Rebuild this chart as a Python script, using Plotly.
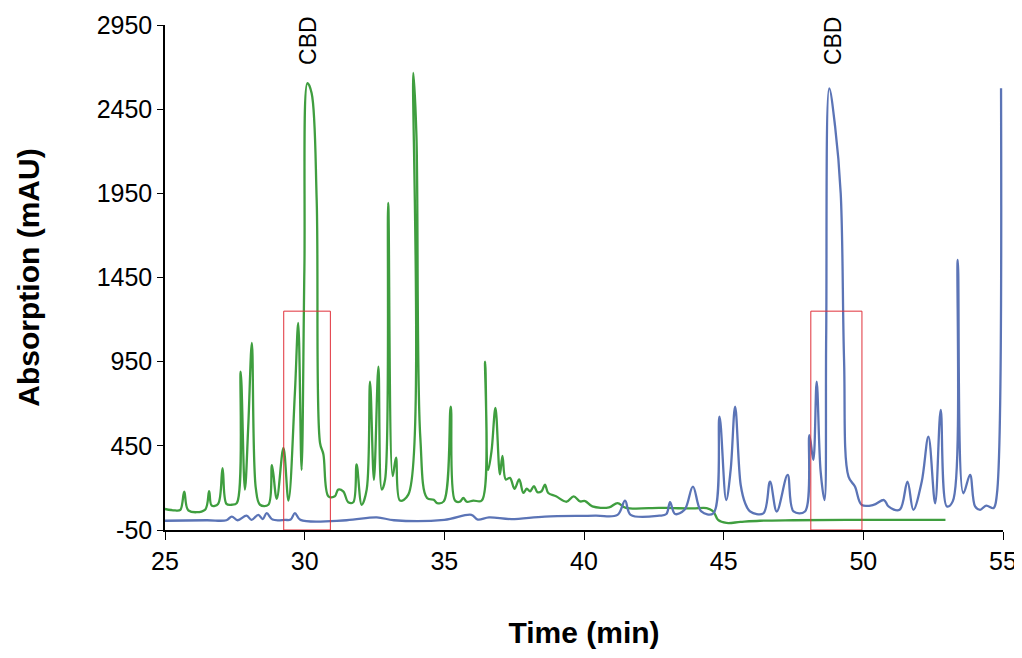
import plotly.graph_objects as go

# green chromatogram (time in min, absorption in mAU)
green_t = [25.0, 25.36, 25.55, 25.69, 25.84, 26.43, 26.58, 26.67, 26.9, 27.06, 27.2, 27.39, 27.57,
           27.71, 27.86, 27.98, 28.11, 28.25, 28.4, 28.7, 28.83, 29.0, 29.24, 29.42, 29.65, 29.77,
           29.89, 29.99, 30.1, 30.25, 30.43, 30.55, 30.67, 30.85, 31.08, 31.2, 31.38, 31.56, 31.74,
           31.86, 32.04, 32.22, 32.34, 32.48, 32.64, 32.76, 32.88, 32.99, 33.15, 33.27, 33.41, 33.71,
           33.89, 34.0, 34.14, 34.38, 34.62, 34.74, 34.98, 35.23, 35.38, 35.56, 35.68, 35.8, 36.04,
           36.34, 36.46, 36.57, 36.69, 36.83, 36.99, 37.08, 37.2, 37.35, 37.51, 37.68, 37.83, 37.95,
           38.07, 38.21, 38.33, 38.48, 38.6, 38.72, 39.0, 39.38, 39.63, 39.86, 40.04, 40.3, 40.9,
           41.2, 41.5, 42.7, 43.2, 43.9, 44.39, 44.63, 44.8, 45.1, 45.6, 46.3, 47.5, 50.0, 52.94]
green_y = [75, 66, 70, 178, 66, 70, 181, 95, 105, 318, 105, 100, 110,
           891, 190, 564, 1061, 200, 100, 100, 335, 135, 437, 125, 764, 1180,
           307, 1500, 2605, 2545, 1910, 467, 400, 150, 150, 190, 180, 115, 115,
           340, 100, 190, 831, 248, 920, 190, 250, 1893, 270, 380, 125, 160,
           2665, 2300, 500, 140, 130, 110, 120, 683, 125, 118, 140, 118, 125,
           125, 950, 307, 420, 675, 280, 390, 250, 260, 195, 250, 170, 195,
           180, 210, 175, 180, 220, 170, 150, 118, 150, 120, 122, 90, 85,
           110, 82, 82, 80, 78, 80, 60, 10, -8, -2, 5, 8, 10, 10]

# blue chromatogram
blue_t = [25.0, 26.5, 27.2, 27.39, 27.6, 27.92, 28.1, 28.34, 28.5, 28.64, 28.85, 29.3, 29.5, 29.65,
          29.85, 31.5, 32.58, 33.2, 35.0, 35.97, 36.2, 36.6, 37.4, 38.6, 40.4, 41.2, 41.47, 41.67,
          42.7, 42.95, 43.08, 43.26, 43.6, 43.9, 44.2, 44.63, 44.85, 45.09, 45.25, 45.41, 45.61,
          45.77, 45.95, 46.42, 46.66, 46.9, 47.29, 47.5, 47.91, 48.07, 48.21, 48.33, 48.47, 48.61,
          48.67, 48.78, 48.99, 49.19, 49.31, 49.47, 49.7, 49.94, 50.36, 50.74, 50.9, 51.3, 51.58,
          51.79, 52.09, 52.33, 52.57, 52.77, 52.99, 53.2, 53.38, 53.58, 53.82, 54.0, 54.18, 54.4,
          54.66, 54.78, 54.93]
blue_y = [5, 8, 8, 30, 8, 35, 10, 40, 15, 50, 12, 10, 12, 50,
          10, 8, 25, 8, 10, 40, 12, 25, 15, 30, 35, 40, 125, 40,
          35, 45, 115, 45, 70, 208, 60, 49, 623, 128, 307, 683, 217,
          109, 60, 49, 237, 60, 277, 60, 60, 514, 366, 831, 300, 128,
          1100, 2574, 2346, 1950, 960, 267, 208, 99, 99, 128, 90, 70, 237,
          70, 237, 505, 109, 663, 90, 120, 1554, 168, 277, 90, 70, 95,
          80, 160, 2574]

y_ticks = [-50, 450, 950, 1450, 1950, 2450, 2950]
y_ticklabels = ['-50', '450', '950', '1450', '1950', '2450', '2950']

cbd_t = [30.1, 48.9]
box_t0 = [29.25, 48.12]
box_t1 = [30.92, 49.95]
box_top = 1250

fig = go.Figure()
fig.add_trace(go.Scatter(x=green_t, y=green_y, mode='lines', line=dict(color='#3f9e3f', width=2.3),
                         line_shape='spline', showlegend=False))
fig.add_trace(go.Scatter(x=blue_t, y=blue_y, mode='lines', line=dict(color='#5b74b6', width=2.3),
                         line_shape='spline', showlegend=False))

for a, b in zip(box_t0, box_t1):
    fig.add_shape(type='rect', x0=a, x1=b, y0=-50, y1=box_top,
                  line=dict(color='#e0303a', width=1))
for t in cbd_t:
    fig.add_annotation(x=t, y=1.0, yref='paper', yanchor='bottom', text='CBD', textangle=-90,
                       showarrow=False, font=dict(size=23, color='black'), yshift=-42)

# page body has an 8px margin, so the figure is sized to fit inside the window
fig.update_layout(
    width=1012, height=648,
    margin=dict(l=157, r=17, t=17, b=126),
    plot_bgcolor='white', paper_bgcolor='white',
    font=dict(family='Liberation Sans, Arial', color='black'),
    xaxis=dict(range=[25, 55], dtick=5, showline=True, linecolor='black', linewidth=1.5,
               ticks='outside', ticklen=8, tickcolor='black', showgrid=False, zeroline=False,
               tickfont=dict(size=25), automargin=False,
               title=dict(text='<b>Time (min)</b>', font=dict(size=30), standoff=48)),
    yaxis=dict(range=[-50, 2950], tickvals=y_ticks, ticktext=y_ticklabels,
               showline=True, linecolor='black', linewidth=1.5, ticks='outside', ticklen=6,
               tickcolor='black', showgrid=False, zeroline=False, tickfont=dict(size=25),
               automargin=False,
               title=dict(text='<b>Absorption (mAU)</b>', font=dict(size=30), standoff=48)),
)

fig.write_html("out.html")
